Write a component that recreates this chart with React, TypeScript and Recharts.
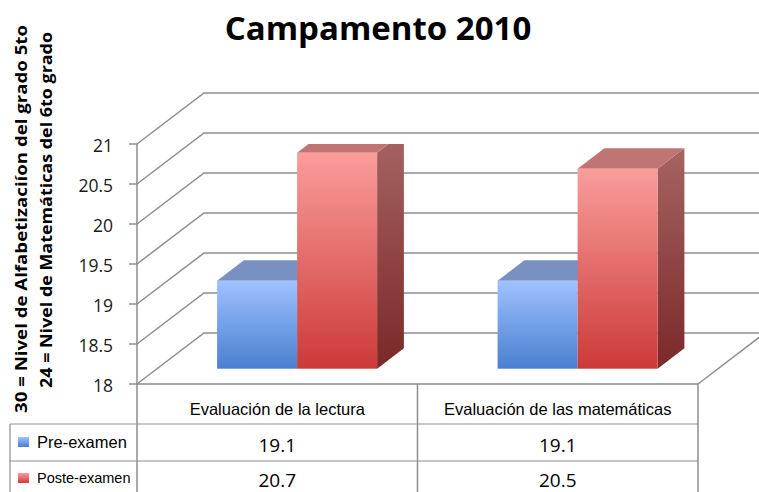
import React from 'react';
import { BarChart, Bar, XAxis, YAxis, CartesianGrid } from 'recharts';

const categories = ['Evaluación de la lectura', 'Evaluación de las matemáticas'];
const preExamen = [19.1, 19.1];
const posteExamen = [20.7, 20.5];
const seriesNames = ['Pre-examen', 'Poste-examen'];
const yTicks = [18, 18.5, 19, 19.5, 20, 20.5, 21];
const chartTitle = 'Campamento 2010';
const yLabelLines = ['30 =  Nivel de Alfabetizaciíon del grado 5to', '24 = Nivel de Matemáticas del 6to grado'];

const data = categories.map((c, i) => ({ category: c, pre: preExamen[i], post: posteExamen[i] }));

const W = 759;
const H = 492;
const PLOT_LEFT = 137;
const PLOT_RIGHT = 698;
const PLOT_TOP = 144;
const PLOT_BOTTOM = 384;
const DX = 67;
const DY = 51;
const FRONT = 0.3;
const DEPTH = 0.4;
const GRID = '#8e8e8e';
const ROW1 = 424;
const ROW2 = 461;
const TABLE_BOTTOM = 500;
const BAND = (PLOT_RIGHT - PLOT_LEFT) / categories.length;

const makeShape = (frontId: string, topColor: string, sideId: string | null) => (props: any) => {
  const { x, y, width, height } = props;
  if (width == null || height == null) return null;
  const fx = x + FRONT * DX;
  const fy = y - FRONT * DY;
  const ox = DEPTH * DX;
  const oy = DEPTH * DY;
  return (
    <g>
      {sideId && (
        <polygon
          points={`${fx + width},${fy} ${fx + width + ox},${fy - oy} ${fx + width + ox},${fy + height - oy} ${fx + width},${fy + height}`}
          fill={`url(#${sideId})`}
        />
      )}
      <polygon
        points={`${fx},${fy} ${fx + width},${fy} ${fx + width + ox},${fy - oy} ${fx + ox},${fy - oy}`}
        fill={topColor}
      />
      <rect x={fx} y={fy} width={width} height={height} fill={`url(#${frontId})`} />
    </g>
  );
};

const gridLine = (props: any) => {
  const { x1, y1, x2 } = props;
  const isFloor = Math.abs(y1 - PLOT_BOTTOM) < 0.5;
  return (
    <g key={`grid-${y1}`}>
      <path d={`M${x1},${y1} L${x1 + DX},${y1 - DY} L${W + 20},${y1 - DY}`} stroke={GRID} strokeWidth={1.5} fill="none" />
      {isFloor && <path d={`M${x2},${y1} L${x2 + DX},${y1 - DY}`} stroke={GRID} strokeWidth={1.5} fill="none" />}
    </g>
  );
};

const YTick = (props: any) => {
  const { x, y, payload } = props;
  return (
    <text x={x} y={y + 8} textAnchor="end" fontFamily="'Open Sans', sans-serif" fontSize={17.5} fill="#1a1a1a">
      {String(payload.value)}
    </text>
  );
};

const XTick = (props: any) => {
  const { x, payload, index } = props;
  const left = x - BAND / 2;
  const right = x + BAND / 2;
  const i = index ?? payload.index;
  return (
    <g>
      <line x1={left} y1={ROW1} x2={right} y2={ROW1} stroke={GRID} strokeWidth={1.2} />
      <line x1={left} y1={ROW2} x2={right} y2={ROW2} stroke={GRID} strokeWidth={1.2} />
      <line x1={right} y1={PLOT_BOTTOM} x2={right} y2={TABLE_BOTTOM} stroke={GRID} strokeWidth={1.5} />
      <text x={x} y={415} textAnchor="middle" fontFamily="'Liberation Sans', Arial, sans-serif" fontSize={16.5} fill="#000">
        {payload.value}
      </text>
      <text x={x} y={452} textAnchor="middle" fontFamily="'Open Sans', sans-serif" fontSize={19} fill="#000">
        {String(preExamen[i])}
      </text>
      <text x={x} y={487} textAnchor="middle" fontFamily="'Open Sans', sans-serif" fontSize={19} fill="#000">
        {String(posteExamen[i])}
      </text>
      {i === 0 && (
        <g>
          <line x1={10} y1={ROW1} x2={left} y2={ROW1} stroke={GRID} strokeWidth={1.2} />
          <line x1={10} y1={ROW2} x2={left} y2={ROW2} stroke={GRID} strokeWidth={1.2} />
          <line x1={10} y1={ROW1} x2={10} y2={TABLE_BOTTOM} stroke={GRID} strokeWidth={1.2} />
          <line x1={left} y1={PLOT_BOTTOM} x2={left} y2={TABLE_BOTTOM} stroke={GRID} strokeWidth={1.5} />
          <rect x={18} y={437} width={11} height={10} fill="url(#blueFront)" />
          <text x={37} y={448} fontFamily="'Liberation Sans', Arial, sans-serif" fontSize={16.5} fill="#000">
            {seriesNames[0]}
          </text>
          <rect x={18} y={473} width={11} height={10} fill="url(#redFront)" />
          <text x={37} y={483} fontFamily="'Liberation Sans', Arial, sans-serif" fontSize={14.5} fill="#000">
            {seriesNames[1]}
          </text>
        </g>
      )}
    </g>
  );
};

export default function App() {
  return (
    <div style={{ position: 'absolute', left: 0, top: 0, width: W, height: H, background: '#fff', overflow: 'hidden' }}>
      <BarChart
        width={W}
        height={H}
        data={data}
        margin={{ top: PLOT_TOP, right: W - PLOT_RIGHT, bottom: 0, left: 0 }}
        barGap={0}
        barSize={80}
      >
        <defs>
          <linearGradient id="blueFront" x1="0" y1="0" x2="0" y2="1">
            <stop offset="0%" stopColor="#9fc2ff" />
            <stop offset="100%" stopColor="#4a7fd0" />
          </linearGradient>
          <linearGradient id="redFront" x1="0" y1="0" x2="0" y2="1">
            <stop offset="0%" stopColor="#f99d9b" />
            <stop offset="100%" stopColor="#cc3a39" />
          </linearGradient>
          <linearGradient id="redSide" x1="0" y1="0" x2="0" y2="1">
            <stop offset="0%" stopColor="#a56463" />
            <stop offset="100%" stopColor="#7b2828" />
          </linearGradient>
        </defs>
        <text x={378} y={40} textAnchor="middle" fontFamily="'Open Sans', sans-serif" fontWeight="bold" fontSize={33} fill="#000">
          {chartTitle}
        </text>
        <text
          transform="translate(27,219) rotate(-90)"
          textAnchor="middle"
          fontFamily="'Open Sans', sans-serif"
          fontWeight="bold"
          fontSize={16.5}
          textLength={388}
          lengthAdjust="spacingAndGlyphs"
          fill="#000"
        >
          {yLabelLines[0]}
        </text>
        <text
          transform="translate(52,210) rotate(-90)"
          textAnchor="middle"
          fontFamily="'Open Sans', sans-serif"
          fontWeight="bold"
          fontSize={16.5}
          textLength={356}
          lengthAdjust="spacingAndGlyphs"
          fill="#000"
        >
          {yLabelLines[1]}
        </text>
        <CartesianGrid vertical={false} horizontal={gridLine} />
        <XAxis
          dataKey="category"
          height={H - PLOT_BOTTOM}
          interval={0}
          tickLine={false}
          axisLine={{ stroke: GRID, strokeWidth: 1.5 }}
          tick={<XTick />}
        />
        <YAxis
          width={PLOT_LEFT}
          domain={[18, 21]}
          ticks={yTicks}
          allowDataOverflow
          tickSize={8}
          tickMargin={16}
          tickLine={{ stroke: GRID, strokeWidth: 1.5 }}
          axisLine={{ stroke: GRID, strokeWidth: 1.5 }}
          tick={<YTick />}
        />
        <Bar dataKey="pre" name={seriesNames[0]} isAnimationActive={false} shape={makeShape('blueFront', '#7891c1', null)} />
        <Bar dataKey="post" name={seriesNames[1]} isAnimationActive={false} shape={makeShape('redFront', '#c07473', 'redSide')} />
      </BarChart>
    </div>
  );
}
